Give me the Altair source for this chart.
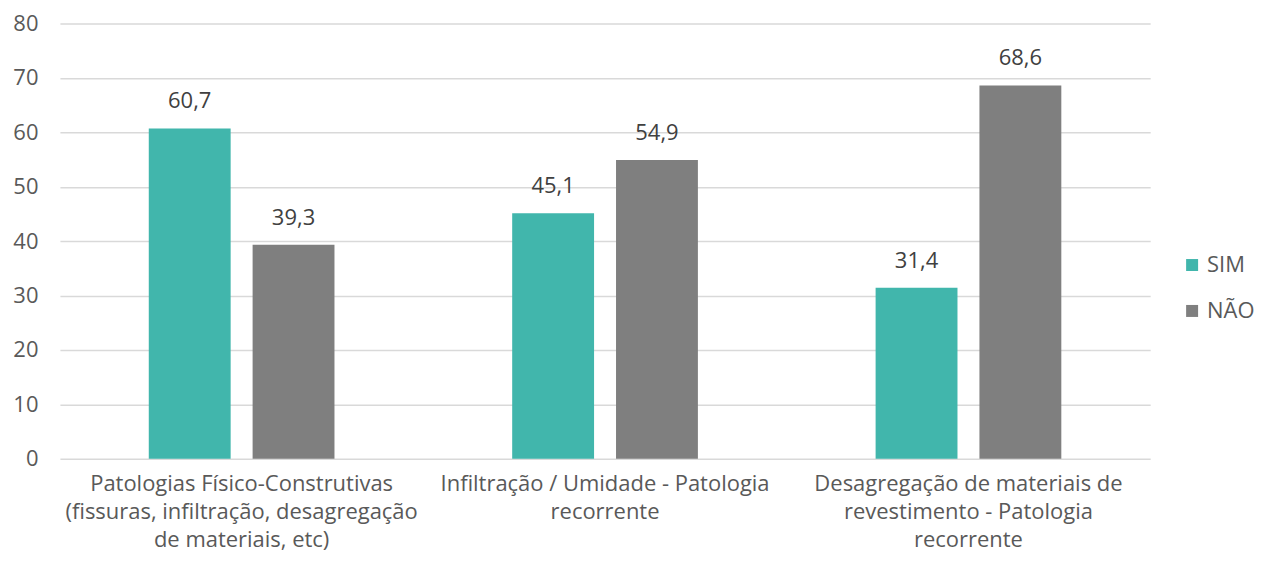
import altair as alt
import pandas as pd

categories = [
    "Patologias Físico-Construtivas\n(fissuras, infiltração, desagregação\nde materiais, etc)",
    "Infiltração / Umidade - Patologia\nrecorrente",
    "Desagregação de materiais de\nrevestimento - Patologia\nrecorrente",
]
series = ["SIM", "NÃO"]
sim_values = [60.7, 45.1, 31.4]
nao_values = [39.3, 54.9, 68.6]
colors = ["#41B6AC", "#7F7F7F"]

rows = []
for i, c in enumerate(categories):
    rows.append({"cat": c, "serie": "SIM", "value": sim_values[i]})
    rows.append({"cat": c, "serie": "NÃO", "value": nao_values[i]})
df = pd.DataFrame(rows)

FONT = "Open Sans"
GREY = "#595959"
FS = 22

x = alt.X("cat:N", sort=categories, title=None,
          scale=alt.Scale(paddingInner=0.489, paddingOuter=0.2445),
          axis=alt.Axis(labelAngle=0, labelExpr="split(datum.label, '\\n')",
                        labelFontSize=FS, labelColor=GREY, labelFont=FONT,
                        labelLineHeight=28, labelPadding=15, ticks=False,
                        domain=False, grid=False, labelLimit=500))
xo = alt.XOffset("serie:N", sort=series,
                 scale=alt.Scale(paddingInner=0.2115, paddingOuter=0))

base = alt.Chart(df).encode(x=x, xOffset=xo)

bars = base.mark_bar().encode(
    y=alt.Y("value:Q", title=None,
            scale=alt.Scale(domain=[0, 80]),
            axis=alt.Axis(values=[0, 10, 20, 30, 40, 50, 60, 70, 80],
                          labelFontSize=FS, labelColor=GREY, labelFont=FONT,
                          labelPadding=22, ticks=False, domain=False,
                          gridColor="#D9D9D9", gridWidth=1.5)),
    color=alt.Color("serie:N", sort=series,
                    scale=alt.Scale(domain=series, range=colors),
                    legend=alt.Legend(title=None, orient="none",
                                      legendX=1123, legendY=231,
                                      symbolType="square", symbolSize=144,
                                      symbolStrokeWidth=0,
                                      labelFontSize=FS, labelColor=GREY,
                                      labelFont=FONT, rowPadding=24,
                                      labelOffset=4)),
)

texts = base.mark_text(dy=-27, fontSize=FS, color="#404040", font=FONT).transform_calculate(
    lbl="replace(format(datum.value, '.1f'), '.', ',')"
).encode(
    y=alt.Y("value:Q"),
    text="lbl:N",
)

chart = (bars + texts).properties(
    width=1092, height=436,
    autosize=alt.AutoSizeParams(type="none"),
    padding={"left": 52, "top": 15, "right": 108, "bottom": 97},
).configure(font=FONT, view=alt.ViewConfig(stroke=None))

chart.save("out.html", embed_options={"renderer": "svg", "actions": False})
